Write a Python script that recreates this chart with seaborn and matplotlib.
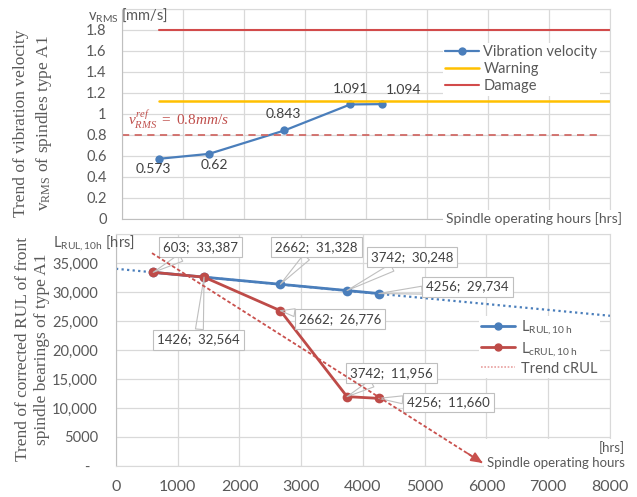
import matplotlib
matplotlib.use("Agg")
import matplotlib.pyplot as plt
from matplotlib.lines import Line2D
import seaborn as sns
import pandas as pd

sns.set_style("whitegrid")
plt.rcParams['font.family'] = ['Lato', 'DejaVu Sans']
plt.rcParams['mathtext.default'] = 'regular'
plt.rcParams['mathtext.fontset'] = 'custom'
plt.rcParams['mathtext.rm'] = 'Liberation Serif'
plt.rcParams['mathtext.it'] = 'Liberation Serif:italic'

# top chart: vibration velocity
hours = [603, 1426, 2662, 3742, 4256]
v_rms = [0.573, 0.62, 0.843, 1.091, 1.094]
warning_x = [603, 8000]
warning_level = 1.12
damage_x = [603, 8000]
damage_level = 1.8
ref_x = [0, 7800]
ref_level = 0.8
v_ticks = [0, 0.2, 0.4, 0.6, 0.8, 1.0, 1.2, 1.4, 1.6, 1.8]
v_tick_labels = ["0", "0.2", "0.4", "0.6", "0.8", "1", "1.2", "1.4", "1.6", "1.8"]

# bottom chart: remaining useful life
l_rul = [33387, 32564, 31328, 30248, 29734]
l_crul = [33387, 32564, 26776, 11956, 11660]
rul_trend_x = [0, 8000]
rul_trend_y = [34000, 25900]
crul_trend_x = [583, 5940]
crul_trend_y = [36700, 500]
rul_ticks = [0, 5000, 10000, 15000, 20000, 25000, 30000, 35000]
rul_tick_labels = ["-  ", "5000", "10,000", "15,000", "20,000", "25,000", "30,000", "35,000"]
x_ticks = [0, 1000, 2000, 3000, 4000, 5000, 6000, 7000, 8000]

blue = "#4A7EBB"
red = "#BE4B48"
yellow = "#FFC000"
grid_col = "#D9D9D9"
txt_col = "#595959"

df_v = pd.DataFrame({"hours": hours, "v": v_rms})
df_l = pd.DataFrame({"hours": hours, "rul": l_rul, "crul": l_crul})

fig = plt.figure(figsize=(6.37, 4.97), dpi=100)
ax1 = fig.add_axes([0.1915, 0.5594, 0.7661, 0.4225])
ax2 = fig.add_axes([0.1821, 0.0624, 0.7755, 0.4668])

# ---- top chart
sns.lineplot(data=df_v, x="hours", y="v", marker="o", markersize=6, markeredgewidth=0,
             color=blue, linewidth=1.6, ax=ax1, label="Vibration velocity")
ax1.plot(warning_x, [warning_level] * 2, color=yellow, lw=1.8, label="Warning")
ax1.plot(damage_x, [damage_level] * 2, color="#D24B4B", lw=1.5, label="Damage")
ax1.plot(ref_x, [ref_level] * 2, color="#D06A66", lw=1.3, ls=(0, (4, 3)))

label_offsets = [(-4, -7), (4, -8), (-1, 12), (0, 11), (16, 10)]
for h, v, off in zip(hours, v_rms, label_offsets):
    ax1.annotate(f"{v:g}", (h, v), xytext=off, textcoords="offset points",
                 ha="center", va="center", fontsize=10, color="#404040")

ax1.text(100, 0.84, r"$\mathit{v}_{\mathit{RMS}}^{\mathit{ref}}\mathit{\ =\ 0.8mm/s}$",
         color="#C0504D", fontsize=11, va="bottom")

ax1.set_xlim(0, 8000)
ax1.set_ylim(0, 2.0)
ax1.set_xticks(x_ticks)
ax1.set_xticklabels([])
ax1.set_yticks(v_ticks + [2.0])
ax1.set_yticklabels(v_tick_labels + [""])
ax1.set_xlabel("")
ax1.set_ylabel("")
ax1.tick_params(axis="y", length=0, pad=11, labelsize=10.5, labelcolor=txt_col)
ax1.tick_params(axis="x", length=0)
ax1.grid(color=grid_col, lw=0.9)
for side in ["top", "right"]:
    ax1.spines[side].set_color(grid_col)
for side in ["left", "bottom"]:
    ax1.spines[side].set_color("#BFBFBF")
ax1.legend(loc="upper right", bbox_to_anchor=(0.995, 0.875), frameon=True, fancybox=False,
           edgecolor="none", facecolor="white", framealpha=1, fontsize=10.5,
           handlelength=2.3, handletextpad=0.3, borderpad=0.2, labelspacing=0.2,
           labelcolor=txt_col)
ax1.text(1.025, 0.0, "Spindle operating hours [hrs]", transform=ax1.transAxes,
         ha="right", va="center", fontsize=10, color=txt_col, clip_on=False,
         bbox=dict(fc="white", ec="none", pad=2))

# ---- bottom chart
ax2.plot(rul_trend_x, rul_trend_y, color=blue, lw=1.6, ls=(0, (1, 1.5)))
ax2.plot(crul_trend_x, crul_trend_y, color="#C9504D", lw=1.3, ls=(0, (2, 1.3)), zorder=6)
ax2.annotate("", xy=(crul_trend_x[1], crul_trend_y[1]),
             xytext=(crul_trend_x[1] - 250, crul_trend_y[1] + 1700),
             arrowprops=dict(arrowstyle="-|>,head_length=0.7,head_width=0.3",
                             color="#C9504D", lw=1.2, shrinkA=0, shrinkB=0), zorder=7)
sns.lineplot(data=df_l, x="hours", y="rul", marker="o", markersize=7, markeredgewidth=0,
             color=blue, linewidth=2, ax=ax2)
sns.lineplot(data=df_l, x="hours", y="crul", marker="o", markersize=7, markeredgewidth=0,
             color=red, linewidth=2, ax=ax2)

# callout offsets (points) for each data label
rul_offsets = [(34, 18), None, (26, 27), (47, 24), (64, 5)]
crul_offsets = [None, (-4, -45), (43, -6), (32, 17), (50, -3)]
box = dict(boxstyle="square,pad=0.3", fc="white", ec="#BFBFBF", lw=0.8)
for values, offsets in [(l_crul, crul_offsets), (l_rul, rul_offsets)]:
    for h, v, off in zip(hours, values, offsets):
        if off is None:
            continue
        ax2.annotate(f"{h};  {v:,}", (h, v), xytext=off, textcoords="offset points",
                     ha="center", va="center", fontsize=9.5, color="#404040", bbox=box,
                     arrowprops=dict(arrowstyle="wedge,tail_width=0.6", fc="none",
                                     ec="#BFBFBF", lw=0.8, shrinkA=0, shrinkB=0))

ax2.set_xlim(0, 8000)
ax2.set_ylim(0, 40000)
ax2.set_xticks(x_ticks)
ax2.set_xticklabels([str(t) for t in x_ticks])
ax2.set_yticks(rul_ticks + [40000])
ax2.set_yticklabels(rul_tick_labels + [""])
ax2.set_xlabel("")
ax2.set_ylabel("")
ax2.tick_params(axis="y", length=0, pad=13, labelsize=10.5, labelcolor=txt_col)
ax2.tick_params(axis="x", length=0, pad=10, labelsize=11.5, labelcolor=txt_col)
ax2.grid(color=grid_col, lw=0.9)
for side in ["top", "right", "bottom"]:
    ax2.spines[side].set_color(grid_col)
ax2.spines["left"].set_color("#BFBFBF")

handles = [Line2D([], [], color=blue, lw=2, marker="o", markersize=5),
           Line2D([], [], color=red, lw=2, marker="o", markersize=5),
           Line2D([], [], color="#E8A09E", lw=1.2, ls=(0, (1, 1)))]
labels = [r"L$_{RUL,10\ h}$", r"L$_{cRUL,10\ h}$", "Trend cRUL"]
ax2.legend(handles, labels, loc="upper right", bbox_to_anchor=(0.995, 0.68), frameon=True,
           fancybox=False, edgecolor="none", facecolor="white", framealpha=1, fontsize=10.5,
           handlelength=2.3, handletextpad=0.4, borderpad=0.2, labelspacing=0.25,
           labelcolor=txt_col)
ax2.text(1.03, -0.015, "[hrs]\nSpindle operating hours", transform=ax2.transAxes,
         ha="right", va="bottom", multialignment="right", linespacing=1.3,
         fontsize=9.5, color=txt_col, clip_on=False, zorder=5,
         bbox=dict(fc="white", ec="none", pad=2))

# axis titles
fig.text(0.138, 0.97, r"v$_{RMS}$ [mm/s]", fontsize=10.5, color=txt_col, va="center")
fig.text(0.083, 0.511, r"L$_{RUL,10h}$ [hrs]", fontsize=10.5, color=txt_col, va="center")
fig.text(0.053, 0.752, "Trend of vibration velocity\nv$_{RMS}$ of spindles type A1",
         rotation=90, ha="center", va="center", fontsize=12.5, color=txt_col,
         family="Liberation Serif", linespacing=1.35)
fig.text(0.051, 0.298, "Trend of corrected RUL of front\nspindle bearings of type A1",
         rotation=90, ha="center", va="center", fontsize=12.5, color=txt_col,
         family="Liberation Serif", linespacing=1.25)

fig.savefig("out.png", dpi=100)
